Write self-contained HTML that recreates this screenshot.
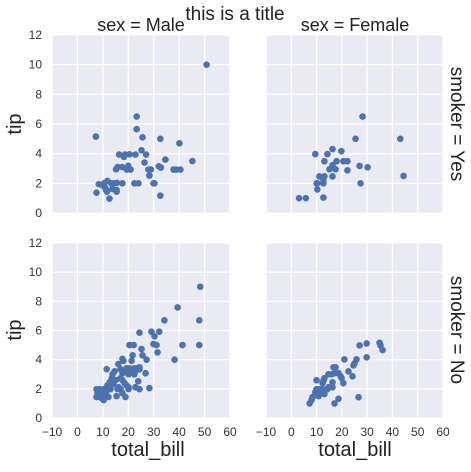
<!DOCTYPE html>
<html><head><meta charset="utf-8"><style>
html,body{margin:0;padding:0;background:#fff;}
svg text{font-family:"Liberation Sans",sans-serif;}
</style></head><body>
<svg id="chart" width="471" height="467" viewBox="0 0 471 467" xmlns="http://www.w3.org/2000/svg"></svg>
<script>
const xTicks=[-10,0,10,20,30,40,50,60];
const yTicks=[0,2,4,6,8,10,12];
const maleSmokerBill=[50.8,7.25,23.3,23.3,25.6,32.6,40.1,45.2,34.6,32,32.8,37.8,38.8,40.5,25.2,27,22.8,26.4,20.5,16.4,18.3,18.7,15.8,15.2,17.6,20,19.4,20.9,27.9,28.9,28.3,22.4,24,29.9,30.3,32.6,17.7,15.5,14.3,13.3,11.8,10.5,9.9,8.4,10.9,11.6,11.3,13.7,15.4,15.4,7.5,12.6];
const maleSmokerTip=[10,5.15,6.5,5.65,5.1,5,4.7,3.5,3.6,3.15,3.06,2.93,2.93,2.93,4.23,3.94,3.94,3.4,3.96,3.94,3.78,3.94,3.1,2.95,3.1,3.18,2.93,2.93,2.93,2.93,2.52,2,2,2,2,1.17,2,2.03,2,2,2.16,2,1.87,1.94,1.71,1.44,1.55,1.62,1.55,1.44,1.37,0.97];
const femaleSmokerBill=[28.2,25.4,43.1,44.4,16.3,19.8,9.5,14.3,13.1,17.9,20.6,22.2,16.3,15.1,17.5,22.2,27,30.2,11.1,13.1,16.3,12.7,12.7,10,10.3,27.4,10.3,12.7,3.07,5.75];
const femaleSmokerTip=[6.5,5,5,2.5,4.31,4.17,3.97,3.97,3.49,3.49,3.49,3.49,3.22,2.95,2.95,2.88,3.17,3.08,2.47,2.47,2.47,2.2,2,2,2,2,1.59,1.04,1,1];
const maleNonBill=[48.3,39.4,34.2,47.9,29.1,24.4,32.2,30.3,20.5,22.1,29.9,31.1,41.3,47.9,25.2,31.5,21.7,25.6,38.2,27.2,17.7,18.1,16.1,21.3,26.8,11.5,14.6,13.8,16.9,17.7,18.5,19.3,20.5,22.4,23.6,24.4,24.4,20.1,20.9,22.4,22.8,12.7,13.5,15,14.2,16.9,17.7,18.5,19.3,23.9,22.8,24.4,28.3,20.1,20.1,17,15.8,16.2,11.8,12.2,13,7.5,8.7,10.3,7.9,9.5,11,7.5,8.7,9.5,10.3,11,12.2,15.4,17.7,18.9,9.5,11.5];
const maleNonTip=[9,7.58,6.7,6.7,5.92,5.85,5.92,5.6,5,5,5.07,5,5,5,4.73,4.5,4.3,4.3,4,4,4.06,3.92,3.7,3.92,3.07,3.35,3.2,3,3.35,3.07,3.14,3.41,3.41,3.41,3.41,3.48,3.34,3,3.14,3,3.2,2.45,2.72,2.6,2.31,2.72,2.6,2.4,2.24,2.52,2.11,1.98,2.05,2.11,1.98,1.98,1.98,2.11,2.24,1.98,1.98,1.98,1.98,1.98,1.7,1.7,1.7,1.44,1.44,1.36,1.23,1.44,1.44,1.5,1.7,1.44,1.55,1.84];
const femaleNonBill=[34.9,35.3,36.1,29.8,27,29.8,21,25.8,25,24.6,22.6,24.2,16.7,17.5,17.1,14.7,15.9,18.7,19.5,19.9,13.1,12.8,10,12.4,16.3,20.6,14.7,16.3,10,11.2,12.4,14.3,9.5,10.8,11.9,13.1,10.8,8.4,8,7.25,17.1,18.7,26.6,10.1];
const femaleNonTip=[5.16,4.98,4.66,5.11,4.98,4.16,4.02,4.02,3.75,3.61,3.2,2.86,3.48,3.48,3.07,3,3,3.07,2.86,2.73,2.73,2.59,2.59,2.39,2.45,2.39,2.11,2.11,1.98,1.98,1.98,1.98,1.77,1.7,1.77,1.64,1.5,1.43,1.23,1,1,1.32,1.43,1.6];

const NS='http://www.w3.org/2000/svg';
const svg=document.getElementById('chart');
function mk(tag,attrs,parent){const e=document.createElementNS(NS,tag);for(const k in attrs)e.setAttribute(k,attrs[k]);(parent||svg).appendChild(e);return e;}
const panels=[
 {name:'male-smoker',x0:52,x1:230,y0:35,y1:213,bx:maleSmokerBill,ty:maleSmokerTip,left:true,bottom:false},
 {name:'female-smoker',x0:266,x1:443,y0:35,y1:213,bx:femaleSmokerBill,ty:femaleSmokerTip,left:false,bottom:false},
 {name:'male-nonsmoker',x0:52,x1:230,y0:243,y1:418,bx:maleNonBill,ty:maleNonTip,left:true,bottom:true},
 {name:'female-nonsmoker',x0:266,x1:443,y0:243,y1:418,bx:femaleNonBill,ty:femaleNonTip,left:false,bottom:true}
];
panels.forEach(p=>{
 const g=mk('g',{});
 
 
 const xs=v=>p.x0+(v+10)/70*(p.x1-p.x0);
 const ys=v=>p.y1-v/12*(p.y1-p.y0);
 const bg=mk('rect',{x:p.x0,y:p.y0,width:p.x1-p.x0,height:p.y1-p.y0,fill:'#eaeaf2'},g);
 
 
 xTicks.forEach(t=>{
  mk('line',{x1:xs(t),x2:xs(t),y1:p.y0,y2:p.y1,stroke:'#fff','stroke-width':1.2},g);
  if(p.bottom){const tx=mk('text',{x:xs(t),y:p.y1+18,'text-anchor':'middle','font-size':12,fill:'#333'},g);tx.textContent=(t<0?'\u2212'+(-t):t);
   
   }
 });
 yTicks.forEach(t=>{
  mk('line',{x1:p.x0,x2:p.x1,y1:ys(t),y2:ys(t),stroke:'#fff','stroke-width':1.2},g);
  if(p.left){const tx=mk('text',{x:p.x0-10,y:ys(t)+4,'text-anchor':'end','font-size':12,fill:'#333'},g);tx.textContent=t;
   
   }
 });
 p.bx.forEach((b,i)=>{
  const c=mk('circle',{cx:xs(b),cy:ys(p.ty[i]),r:3.3,fill:'#4c72b0'},g);
  
  
 });
});
function txt(s,attrs,name){const t=mk('text',attrs);t.textContent=s;return t;}
txt('this is a title',{x:235,y:20,'text-anchor':'middle','font-size':19,fill:'#222'},'chart-title');
txt('sex = Male',{x:141,y:31,'text-anchor':'middle','font-size':18,fill:'#222'},'column-title-male');
txt('sex = Female',{x:355,y:31,'text-anchor':'middle','font-size':18,fill:'#222'},'column-title-female');
txt('smoker = Yes',{x:0,y:0,'text-anchor':'middle','font-size':19,fill:'#222',transform:'translate(451,124) rotate(90)'},'row-title-yes');
txt('smoker = No',{x:0,y:0,'text-anchor':'middle','font-size':19,fill:'#222',transform:'translate(451,330) rotate(90)'},'row-title-no');
txt('tip',{x:0,y:0,'text-anchor':'middle','font-size':20,fill:'#222',transform:'translate(21,124) rotate(-90)'},'y-axis-title-top');
txt('tip',{x:0,y:0,'text-anchor':'middle','font-size':20,fill:'#222',transform:'translate(21,330) rotate(-90)'},'y-axis-title-bottom');
txt('total_bill',{x:148,y:456,'text-anchor':'middle','font-size':20,fill:'#222'},'x-axis-title-left');
txt('total_bill',{x:355,y:456,'text-anchor':'middle','font-size':20,fill:'#222'},'x-axis-title-right');
</script>
</body></html>
